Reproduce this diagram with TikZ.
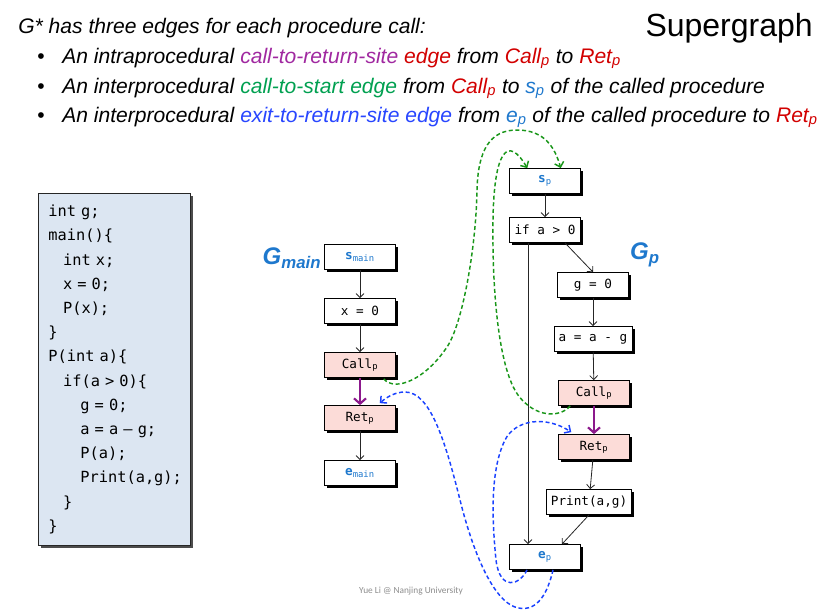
\documentclass[tikz,border=0pt]{standalone}
\usepackage{fontspec}
\setmainfont{Liberation Sans}
\setmonofont{DejaVu Sans Mono}
\newfontfamily\footfont{Carlito}
\usepackage{tikz}
\usetikzlibrary{calc,arrows.meta,shadows}
\usepackage{xcolor}

\definecolor{ctrpurple}{RGB}{160,40,160}
\definecolor{ctrred}{RGB}{210,0,0}
\definecolor{ctsgreen}{RGB}{0,160,80}
\definecolor{etrblue}{RGB}{40,70,255}
\definecolor{nodeblue}{RGB}{30,120,205}
\definecolor{callfill}{RGB}{252,220,216}
\definecolor{codefill}{RGB}{220,230,242}
\definecolor{dashgreen}{RGB}{25,150,25}
\definecolor{dashblue}{RGB}{25,65,255}
\definecolor{edgepurple}{RGB}{140,25,140}

\begin{document}
\begin{tikzpicture}[x=0.75pt, y=-0.75pt,
    hdr/.style={font=\itshape\fontsize{15.8}{18}\selectfont, anchor=base west, inner sep=0},
    dot/.style={font=\fontsize{15.8}{18}\selectfont, anchor=base, inner sep=0},
    stmt/.style={draw=black, line width=0.6pt, fill=white, minimum width=53pt, minimum height=18.75pt,
        inner xsep=3.5pt, inner ysep=2pt, font=\ttfamily\fontsize{9.5}{10}\selectfont,
        drop shadow={shadow xshift=2pt, shadow yshift=-2pt, fill=black, opacity=1}},
    callret/.style={stmt, fill=callfill},
    glabel/.style={font=\bfseries\itshape\fontsize{18}{20}\selectfont, text=nodeblue},
    flow/.style={-{Straight Barb[length=3pt, width=6pt]}, line width=0.6pt, black!85},
    c2r/.style={-{Straight Barb[length=4pt, width=9pt]}, line width=1.6pt, edgepurple},
    c2s/.style={-{Straight Barb[length=3.5pt, width=7pt]}, line width=1.1pt, dashgreen, dash pattern=on 3pt off 2pt},
    e2r/.style={-{Straight Barb[length=3.5pt, width=7pt]}, line width=1.1pt, dashblue, dash pattern=on 3pt off 2pt}]

    \useasboundingbox (0,0) rectangle (828,612);

    % Heading
    \node[hdr] (title) at (18,33) {G* has three edges for each procedure call:};
    \node[font=\fontsize{24}{28}\selectfont, anchor=base east, inner sep=0] (super) at (813,36) {Supergraph};
    \foreach \y/\n in {63/A,93/B,122/C}
        \node[dot] (dot\n) at (41,\y) {\textbullet};
    \node[hdr] (lineA) at (62,63) {An intraprocedural \textcolor{ctrpurple}{call-to-return-site} \textcolor{ctrred}{edge} from \textcolor{ctrred}{Call\textsubscript{p}} to \textcolor{ctrred}{Ret\textsubscript{p}}};
    \node[hdr] (lineB) at (62,93) {An interprocedural \textcolor{ctsgreen}{call-to-start edge} from \textcolor{ctrred}{Call\textsubscript{p}} to \textcolor{nodeblue}{s\textsubscript{p}} of the called procedure};
    \node[hdr] (lineC) at (62,122) {An interprocedural \textcolor{etrblue}{exit-to-return-site edge} from \textcolor{nodeblue}{e\textsubscript{p}} of the called procedure to \textcolor{ctrred}{Ret\textsubscript{p}}};

    % Source program
    \node[draw=black!85, line width=0.6pt, fill=codefill, anchor=north west, minimum width=114pt, minimum height=264pt,
        inner xsep=7.5pt, text width=99pt, align=left, font=\ttfamily\fontsize{11.5}{18.15}\selectfont,
        drop shadow={shadow xshift=2pt, shadow yshift=-2pt, fill=black!70, opacity=1}] (code) at (38,193)
        {int\ g;\\
         main()\{\\
         \hspace*{11pt}int\ x;\\
         \hspace*{11pt}x = 0;\\
         \hspace*{11pt}P(x);\\
         \}\\
         P(int\ a)\{\\
         \hspace*{11pt}if(a > 0)\{\\
         \hspace*{24pt}g = 0;\\
         \hspace*{24pt}a = a – g;\\
         \hspace*{24pt}P(a);\\
         \hspace*{24pt}Print(a,g);\\
         \hspace*{11pt}\}\\
         \}};

    % G_main
    \node[glabel] (gmain) at (292,258) {G\textsubscript{main}};
    \node[stmt] (mstart) at (360,257) {\textcolor{nodeblue}{\textbf{s}\textsubscript{main}}};
    \node[stmt] (mx) at (360,311) {x = 0};
    \node[callret] (mcall) at (360,365) {Call\textsubscript{p}};
    \node[callret] (mret) at (360,418) {Ret\textsubscript{p}};
    \node[stmt] (mexit) at (360,473) {\textcolor{nodeblue}{\textbf{e}\textsubscript{main}}};

    \draw[flow] (mstart) -- (mx);
    \draw[flow] (mx) -- (mcall);
    \draw[c2r] (mcall) -- (mret);
    \draw[flow] (mret) -- (mexit);

    % G_p
    \node[glabel] (gp) at (645,255) {G\textsubscript{p}};
    \node[stmt] (pstart) at (545,181) {\textcolor{nodeblue}{\textbf{s}\textsubscript{p}}};
    \node[stmt] (pif) at (545,230) {if a > 0};
    \node[stmt] (pg) at (593,285) {g = 0};
    \node[stmt] (pa) at (593,339) {a = a - g};
    \node[callret] (pcall) at (594,393) {Call\textsubscript{p}};
    \node[callret] (pret) at (594,447) {Ret\textsubscript{p}};
    \node[stmt] (pprint) at (589,502) {Print(a,g)};
    \node[stmt] (pexit) at (545,557) {\textcolor{nodeblue}{\textbf{e}\textsubscript{p}}};

    \draw[flow] (pstart) -- (pif);
    \draw[flow] ($(pif.south)+(20,0)$) -- (pg.north);
    \draw[flow] (pg) -- (pa);
    \draw[flow] (pa) -- (pcall);
    \draw[c2r] (pcall) -- (pret);
    \draw[flow] (pret) -- (pprint);
    \draw[flow] (pprint.south) -- ($(pexit.north)+(17,0)$);
    \draw[flow] ($(pif.south)+(-17,0)$) -- ($(pexit.north)+(-17,0)$);

    % call-to-start edges
    \draw[c2s] ($(mcall.south east)+(-12,1)$) .. controls (395,392) and (425,380) .. (447,347)
        .. controls (462,325) and (476,250) .. (477,190)
        .. controls (478,150) and (490,130) .. (517,130)
        .. controls (545,130) and (555,148) .. ($(pstart.north east)+(-20,0)$);
    \draw[c2s] ($(pcall.south west)+(12,0)$) .. controls (560,418) and (535,418) .. (518,395)
        .. controls (500,370) and (492,300) .. (493,220)
        .. controls (494,150) and (508,135) .. ($(pstart.north west)+(18,0)$);

    % exit-to-return-site edges
    \draw[e2r] ($(pexit.south)+(8,0)$) .. controls (545,605) and (530,612) .. (515,607)
        .. controls (495,600) and (475,560) .. (460,500)
        .. controls (445,440) and (430,392) .. (405,392)
        .. controls (395,392) and (387,397) .. ($(mret.north east)+(-16,-2)$);
    \draw[e2r] ($(pexit.south)+(-18,0)$) .. controls (520,585) and (500,592) .. (496,560)
        .. controls (492,520) and (490,470) .. (505,440)
        .. controls (515,420) and (545,415) .. ($(pret.north west)+(13,-2)$);

    % Footer
    \node[font=\footfont\fontsize{7}{8}\selectfont, text=black!45] (credit) at (411,591) {Yue Li @ Nanjing University};
\end{tikzpicture}
\end{document}
